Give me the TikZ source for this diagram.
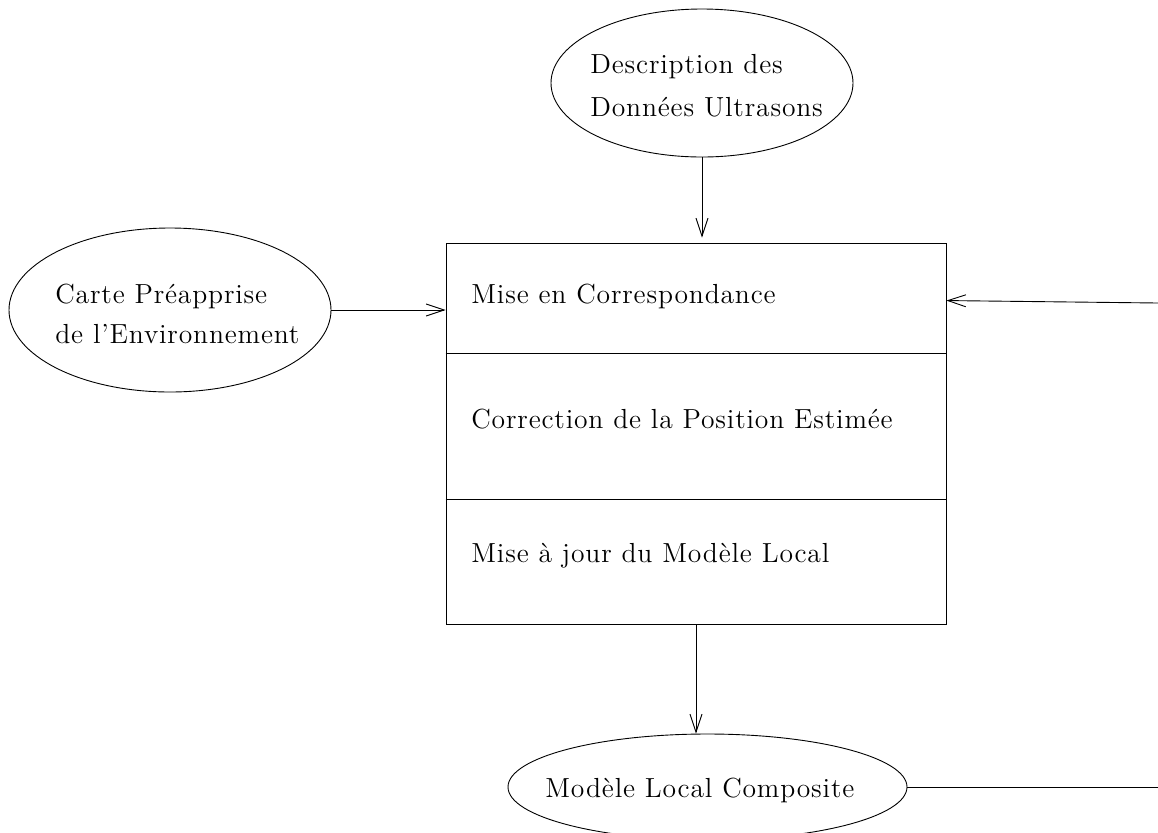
\documentclass[tikz,border=0pt]{standalone}
\usepackage{fontspec}
\setmainfont{Latin Modern Roman}[LetterSpace=3]
\usetikzlibrary{arrows.meta,shapes.geometric}
\tikzset{
  base/.style={line width=0.45pt},
  oval/.style={base, draw, ellipse, inner sep=0pt},
  txt/.style={inner sep=0pt, align=left},
  arr/.style={base, -{Straight Barb[length=9pt,width=6pt,line width=0.45pt]}},
}
\begin{document}
\begin{tikzpicture}[x=0.5pt,y=-0.5pt, font=\fontsize{13.8}{20}\selectfont]
\useasboundingbox (0,0) rectangle (1158,832);
% ellipses
\node[oval, minimum width=151pt, minimum height=74pt] (top) at (702,83) {};
\node[oval, minimum width=161pt, minimum height=82pt] (left) at (170,310) {};
\node[oval, minimum width=199.5pt, minimum height=53pt] (bot) at (707.5,787) {};
% ellipse texts
\node[txt, anchor=north west, font=\fontsize{13.8}{21.5}\selectfont] (toptxt) at (590,54) {Description des\\Données Ultrasons};
\node[txt, anchor=north west] (lefttxt) at (55,284) {Carte Préapprise\\de l'Environnement};
\node[txt, anchor=base west] (bottxt) at (545,797) {Modèle Local Composite};
% box
\node[base, draw, rectangle, minimum width=250pt, minimum height=190.5pt, inner sep=0pt] (box) at (696,433.5) {};
\draw[base] ([yshift=-55.5pt]box.north west) -- ([yshift=-55.5pt]box.north east);
\draw[base] ([yshift=-128.5pt]box.north west) -- ([yshift=-128.5pt]box.north east);
\node[txt, anchor=base west] (t1) at (471,303) {Mise en Correspondance};
\node[txt, anchor=base west] (t2) at (471,428) {Correction de la Position Estimée};
\node[txt, anchor=base west] (t3) at (471,562) {Mise à jour du Modèle Local};
% free ends
\coordinate (rin) at (1158,303);
\coordinate (rout) at (1158,787);
% connectors
\draw[arr, shorten >=2.5pt] (top.south) -- (top.south |- box.north);
\draw[arr] (left.east) -- (left.east -| box.west);
\draw[arr] (rin) -- ([yshift=-29pt]box.north east);
\draw[arr] (box.south) -- (box.south |- bot.north);
\draw[base] (bot.east) -- (rout);
\end{tikzpicture}
\end{document}
